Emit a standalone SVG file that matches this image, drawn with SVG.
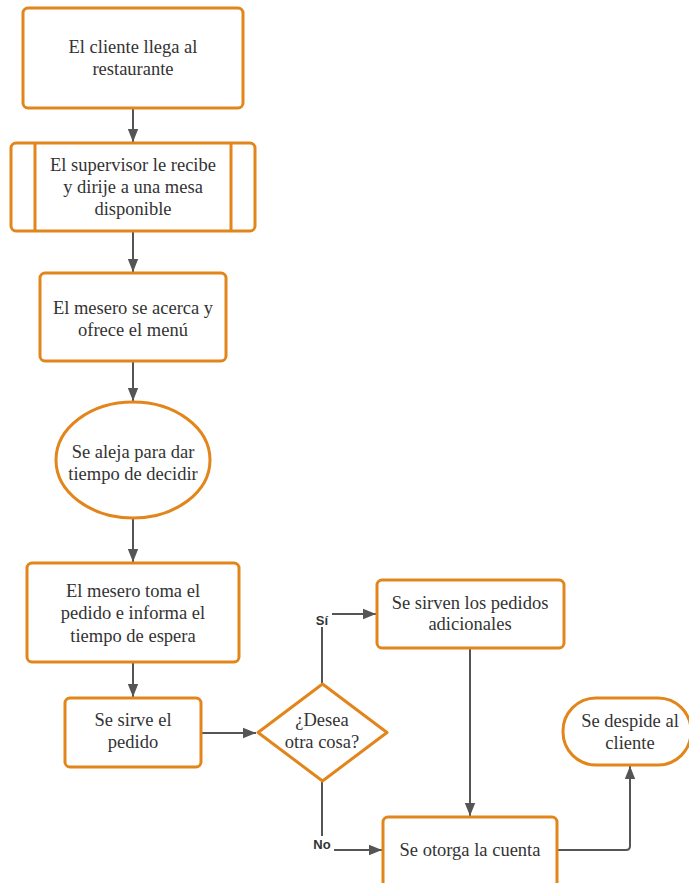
<svg xmlns="http://www.w3.org/2000/svg" width="689" height="883" viewBox="0 0 689 883">
<style>
.n{fill:#fff;stroke:#E2851B;stroke-width:3}
.t{font-family:"Liberation Serif",serif;font-size:18.5px;fill:#333;text-anchor:middle}
.c{fill:none;stroke:#555;stroke-width:2}
.l{font-family:"Liberation Sans",Arial,sans-serif;font-size:13px;font-weight:bold;fill:#333;text-anchor:middle}
</style>
<defs>
<marker id="a" viewBox="0 0 10 10" refX="10" refY="5" markerWidth="13" markerHeight="13" orient="auto" markerUnits="userSpaceOnUse">
<path d="M0,1 L10,5 L0,9 z" fill="#555"/>
</marker>
</defs>
<rect width="689" height="883" fill="#fff"/>
<g id="connectors">
<path class="c" d="M133,108 V142" marker-end="url(#a)"/>
<path class="c" d="M133,231 V272" marker-end="url(#a)"/>
<path class="c" d="M133,361 V401" marker-end="url(#a)"/>
<path class="c" d="M133,518 V562" marker-end="url(#a)"/>
<path class="c" d="M133,662 V697" marker-end="url(#a)"/>
<path class="c" d="M201,733 H256" marker-end="url(#a)"/>
<path class="c" d="M322,683 V614 H376" marker-end="url(#a)"/>
<path class="c" d="M470,648 V816" marker-end="url(#a)"/>
<path class="c" d="M322,782 V850 H382" marker-end="url(#a)"/>
<path class="c" d="M557,850 H626 Q630,850 630,846 V766" marker-end="url(#a)"/>
<rect x="312" y="611" width="20" height="16" fill="#fff"/>
<text class="l" x="322" y="625">Sí</text>
<rect x="310" y="836" width="24" height="16" fill="#fff"/>
<text class="l" x="322" y="849">No</text>
</g>
<g id="n1">
<rect class="n" x="23" y="8" width="220" height="100" rx="5"/>
<text class="t" x="133" y="53">El cliente llega al</text>
<text class="t" x="133" y="75">restaurante</text>
</g>
<g id="n2">
<rect class="n" x="11" y="143" width="244" height="88" rx="5"/>
<line class="n" x1="35" y1="143" x2="35" y2="231"/>
<line class="n" x1="231" y1="143" x2="231" y2="231"/>
<text class="t" x="133" y="171">El supervisor le recibe</text>
<text class="t" x="133" y="193">y dirije a una mesa</text>
<text class="t" x="133" y="215">disponible</text>
</g>
<g id="n3">
<rect class="n" x="40" y="273" width="186" height="88" rx="5"/>
<text class="t" x="133" y="314">El mesero se acerca y</text>
<text class="t" x="133" y="336">ofrece el menú</text>
</g>
<g id="n4">
<ellipse class="n" cx="133" cy="460" rx="77" ry="58"/>
<text class="t" x="133" y="458">Se aleja para dar</text>
<text class="t" x="133" y="480">tiempo de decidir</text>
</g>
<g id="n5">
<rect class="n" x="27" y="563" width="212" height="99" rx="5"/>
<text class="t" x="133" y="597">El mesero toma el</text>
<text class="t" x="133" y="619">pedido e informa el</text>
<text class="t" x="133" y="642">tiempo de espera</text>
</g>
<g id="n6">
<rect class="n" x="65" y="698" width="136" height="69" rx="5"/>
<text class="t" x="133" y="726">Se sirve el</text>
<text class="t" x="133" y="748">pedido</text>
</g>
<g id="n7">
<path class="n" d="M322.5,684 L387,732.5 L322.5,781 L258,732.5 Z" stroke-linejoin="round"/>
<text class="t" x="322" y="726">¿Desea</text>
<text class="t" x="322" y="748">otra cosa?</text>
</g>
<g id="n8">
<rect class="n" x="377" y="580" width="187" height="68" rx="5"/>
<text class="t" x="470" y="609">Se sirven los pedidos</text>
<text class="t" x="470" y="630">adicionales</text>
</g>
<g id="n9">
<rect class="n" x="383" y="817" width="174" height="70" rx="5"/>
<text class="t" x="470" y="856">Se otorga la cuenta</text>
</g>
<g id="n10">
<rect class="n" x="563" y="698" width="128" height="67" rx="33"/>
<text class="t" x="630" y="727">Se despide al</text>
<text class="t" x="630" y="749">cliente</text>
</g>
</svg>
